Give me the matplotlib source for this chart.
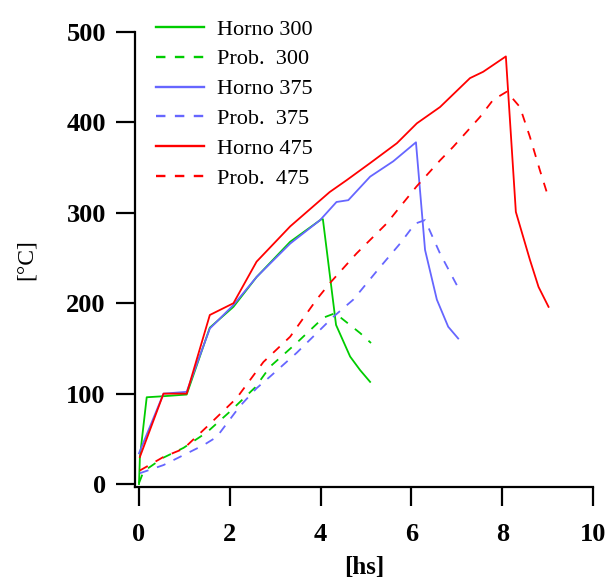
import matplotlib
matplotlib.use('Agg')
import matplotlib.pyplot as plt

# Horno 300 (verde)
t_h300 = [0, 0.02, 0.17, 0.5, 1.05, 1.56, 2.08, 2.59, 3.33, 4.02, 4.05, 4.34, 4.65, 4.87, 5.09]
v_h300 = [0, 30, 96, 97, 99, 173, 196, 229, 268, 293, 293, 176, 141, 126, 113]
t_p300 = [0, 0.1, 0.53, 0.98, 1.49, 2.0, 2.56, 2.89, 3.47, 4.06, 4.32, 4.87, 5.11]
v_p300 = [1, 14, 29, 40, 57, 80, 107, 130, 156, 184, 189, 167, 156]

# Horno 375 (azul)
t_h375 = [0, 0.54, 1.05, 1.56, 2.08, 2.59, 3.33, 3.99, 4.35, 4.61, 5.09, 5.6, 6.1, 6.3, 6.56, 6.81, 7.03]
v_h375 = [34, 100, 102, 172, 198, 229, 266, 292, 312, 314, 340, 357, 378, 259, 204, 174, 161]
t_p375 = [0.02, 0.54, 0.98, 1.42, 1.71, 2.22, 2.59, 2.89, 3.47, 4.28, 4.72, 5.31, 5.75, 6.08, 6.3, 6.63, 7.0]
v_p375 = [12, 21, 32, 43, 52, 86, 106, 119, 145, 185, 204, 240, 266, 288, 292, 255, 220]

# Horno 475 (rojo)
t_h475 = [0.02, 0.54, 1.05, 1.56, 2.08, 2.59, 3.33, 4.2, 4.57, 5.09, 5.68, 6.12, 6.63, 7.29, 7.58, 8.08, 8.3, 8.61, 8.8, 9.02]
v_h475 = [30, 100, 100, 187, 200, 246, 285, 323, 336, 355, 377, 399, 417, 449, 456, 473, 301, 248, 218, 196]
t_p475 = [0.02, 0.54, 0.98, 1.53, 2.15, 2.74, 3.33, 3.91, 4.2, 4.79, 5.45, 6.11, 6.63, 6.92, 7.51, 7.8, 8.1, 8.39, 8.61, 8.83, 8.98]
v_p475 = [15, 30, 39, 65, 95, 135, 163, 204, 222, 255, 288, 329, 358, 373, 406, 425, 434, 417, 384, 347, 323]

verde = '#00cc00'
azul = '#6666ff'
rojo = '#ff0000'

plt.rcParams['font.family'] = 'Liberation Serif'

fig = plt.figure(figsize=(6.07, 5.80), dpi=100)
ax = fig.add_axes([0.2224, 0.1603, 0.7546, 0.7845])

lw = 1.3
dash = (0, (5, 5))
ax.plot(t_h300, v_h300, color=verde, lw=lw, label='Horno 300')
ax.plot(t_p300, v_p300, color=verde, lw=lw, linestyle=dash, label='Prob.  300')
ax.plot(t_h375, v_h375, color=azul, lw=lw, label='Horno 375')
ax.plot(t_p375, v_p375, color=azul, lw=lw, linestyle=dash, label='Prob.  375')
ax.plot(t_h475, v_h475, color=rojo, lw=lw, label='Horno 475')
ax.plot(t_p475, v_p475, color=rojo, lw=lw, linestyle=dash, label='Prob.  475')

ax.set_xlim(-0.088, 10)
ax.set_ylim(-3.3, 500)
ax.set_xticks([0, 2, 4, 6, 8, 10])
ax.set_yticks([0, 100, 200, 300, 400, 500])

for s in ['top', 'right']:
    ax.spines[s].set_visible(False)
for s in ['left', 'bottom']:
    ax.spines[s].set_linewidth(1.6)

ax.tick_params(axis='both', direction='out', length=14, width=1.6,
               labelsize=19)
ax.tick_params(axis='x', pad=12)
ax.tick_params(axis='y', pad=7)
for lbl in ax.get_xticklabels() + ax.get_yticklabels():
    lbl.set_fontweight('bold')

ax.set_xlabel('[hs]', fontsize=18, fontweight='bold', labelpad=7)
ax.set_ylabel('[°C]', fontsize=17, labelpad=21)

leg = ax.legend(loc='upper left', bbox_to_anchor=(0.232, 0.994),
                bbox_transform=fig.transFigure, frameon=False, fontsize=16,
                handlelength=2.125, handletextpad=0.59, labelspacing=0.42,
                borderaxespad=0.3)
for linea in leg.get_lines():
    linea.set_linewidth(1.7)
    if linea.get_linestyle() != '-':
        linea.set_linestyle((0, (4, 4)))

fig.savefig('out.png', dpi=100)
